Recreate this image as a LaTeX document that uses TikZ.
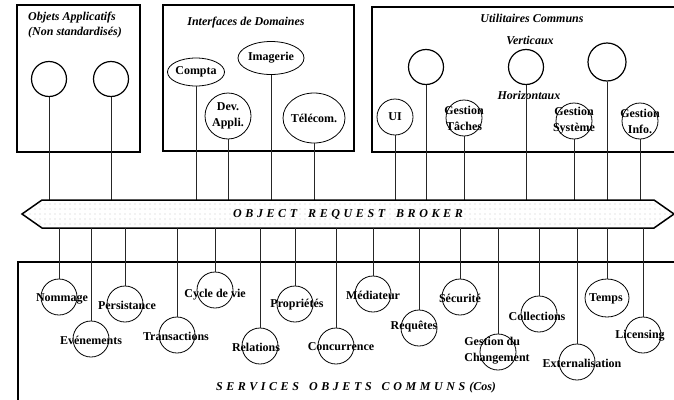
\documentclass[tikz,border=0pt]{standalone}
\usepackage{fontspec}
\setmainfont{Liberation Serif}
\usetikzlibrary{shapes.geometric,patterns.meta}
\begin{document}
\begin{tikzpicture}
[x=1pt,y=-1pt,
  boxdecorate/.style={line width=1.5pt},%
  nodedecorate/.style={shape=circle,draw,thick,minimum size=36pt,inner sep=0pt},%
  ovaldecorate/.style={shape=ellipse,draw,thick,inner sep=0pt},%
  linedecorate/.style={-,line width=0.8pt,draw=black!85},%
  textdecorate/.style={font=\fontsize{12}{16}\selectfont\bfseries,align=center,inner sep=0pt},%
  titledecorate/.style={font=\fontsize{12}{15}\selectfont\bfseries\itshape,align=left,inner sep=0pt},%
  spacedecorate/.style={font=\fontsize{12}{14}\selectfont\bfseries\itshape\addfontfeature{LetterSpace=30},inner sep=0pt}]
\useasboundingbox (0,0) rectangle (674,399);
\fill[white] (0,0) rectangle (674,399);
\coordinate (orbtop) at (0,200);
\coordinate (orbbot) at (0,228);
%% boxes
\draw[boxdecorate] (17,5) rectangle (140,152);
\draw[boxdecorate] (163,5) rectangle (354,151);
\draw[boxdecorate] (676,7) -- (372,7) -- (372,152) -- (676,152);
\draw[boxdecorate] (676,262) -- (18,262) -- (18,402);
%% titles
\node[titledecorate,anchor=west] (apptitle) at (28,25.5) {Objets Applicatifs\\(Non standardisés)};
\node[titledecorate] (domtitle) at (246,23) {Interfaces de Domaines};
\node[titledecorate] (utiltitle) at (532,18) {Utilitaires Communs};
\node[titledecorate] (verttitle) at (530,40) {Verticaux};
\node[titledecorate] (hortitle) at (529,95) {Horizontaux};
%% top nodes
\foreach \nodename/\x/\y/\size in {
  app1/49/79/35, app2/111/79/35,
  vert1/426/67/35, vert2/526/67/35, vert3/607/62/38} {
  \node (\nodename) at (\x,\y) [nodedecorate,line width=1.2pt,minimum size=\size pt] {};
  \draw[linedecorate] (\nodename) -- (\nodename |- orbtop);
}
\foreach \nodename/\x/\y/\w/\h/\lbl in {
  compta/196/72/57/28/Compta, devappli/228/116/46/46/{Dev.\\Appli.},
  imagerie/271/58/66/33/Imagerie, telecom/314/118/62/50/Télécom.} {
  \node (\nodename) at (\x,\y) [ovaldecorate,minimum width=\w pt,minimum height=\h pt] {};
  \node[textdecorate] at (\nodename) {\lbl};
  \draw[linedecorate] (\nodename) -- (\nodename |- orbtop);
}
\foreach \nodename/\x/\y/\lbl in {
  ui/395/117/UI, gtaches/464/118/{Gestion\\Tâches},
  gsysteme/574/121/{Gestion\\Système}, ginfo/640/121/{Gestion\\Info.}} {
  \node (\nodename) at (\x,\y) [nodedecorate] {};
  \node[textdecorate] at (\nodename) {\lbl};
  \draw[linedecorate] (\nodename) -- (\nodename |- orbtop);
}
%% object request broker
\draw[boxdecorate,line join=miter,pattern={Dots[distance=5pt,radius=0.45pt]},pattern color=black!60]
  (22,214) -- (42,200) -- (654,200) -- (674,214) -- (654,228) -- (42,228) -- cycle;
\node[spacedecorate] (orbname) at (348,214) {OBJECT\hspace{11pt}REQUEST\hspace{11pt}BROKER};
%% common object services
\foreach \nodename/\x/\y/\lx/\ly/\lbl in {
  nommage/59/297/62/299/Nommage, evenements/91/339/91/340/Evénements,
  persistance/125/304/127/305/Persistance, transactions/177/335/176/336/Transactions,
  cycle/215/290/215/295/Cycle de vie, relations/260/346/256/347/Relations,
  proprietes/295/304/297/305/Propriétés, concurrence/336/346/341/347/Concurrence,
  mediateur/373/294/373/295/Médiateur, requetes/419/328/414/327/Requêtes,
  securite/460/297/460/298/Sécurité, changement/498/352/497/351/{Gestion du\\Changement},
  collections/539/314/537/316/Collections, externalisation/577/362/582/363/Externalisation,
  licensing/643/335/640/336/Licensing} {
  \node (\nodename) at (\x,\y) [nodedecorate] {};
  \node[textdecorate,align=left] at (\lx,\ly) {\lbl};
  \draw[linedecorate] (\nodename) -- (\nodename |- orbbot);
}
\node (temps) at (607,298) [ovaldecorate,minimum width=44pt,minimum height=38pt] {};
\node[textdecorate] at (606,299) {Temps};
\draw[linedecorate] (temps) -- (temps |- orbbot);
\node[spacedecorate] (cosname) at (356,388)
  {SERVICES\hspace{10pt}OBJETS\hspace{10pt}COMMUNS\hspace{4pt}{\addfontfeature{LetterSpace=0}(Cos)}};
\end{tikzpicture}
\end{document}
